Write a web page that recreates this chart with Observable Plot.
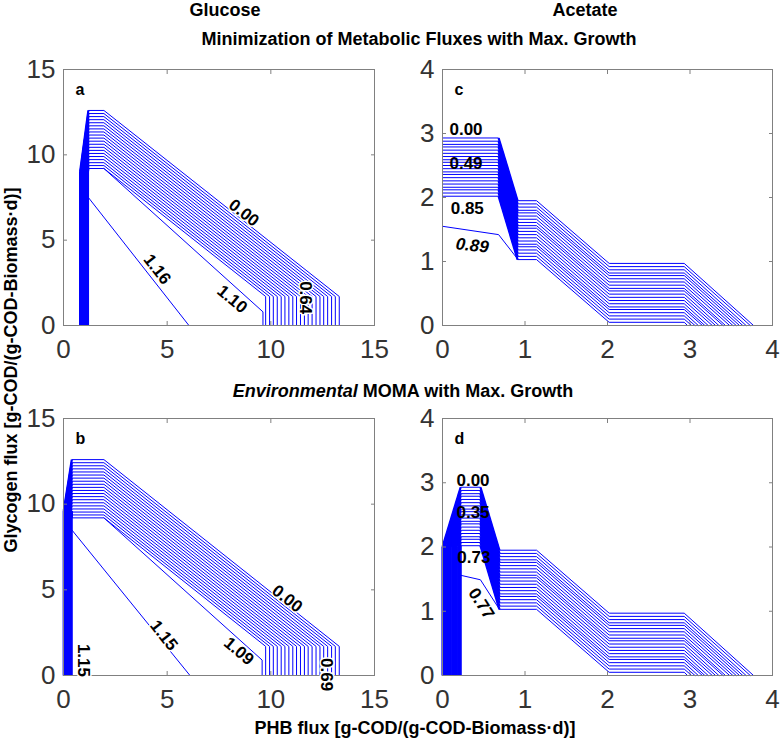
<!DOCTYPE html>
<html>
<head>
<meta charset="utf-8">
<script src="https://cdn.jsdelivr.net/npm/d3@7"></script>
<script src="https://cdn.jsdelivr.net/npm/@observablehq/plot@0.6"></script>
<style>
  html, body { margin: 0; padding: 0; background: #fff; }
  #wrap { position: relative; width: 781px; height: 740px; overflow: hidden; background: #fff; }
  #wrap svg { position: absolute; }
</style>
</head>
<body>
<div id="wrap"></div>
<script>
// ---------------- DATA ----------------
const colTitles = ["Glucose", "Acetate"];
const rowTitles = ["Minimization of Metabolic Fluxes with Max. Growth", "MOMA with Max. Growth"];
const rowTitleItalic = "Environmental";
const xAxisTitle = "PHB flux [g-COD/(g-COD-Biomass\u00b7d)]";
const yAxisTitle = "Glycogen flux [g-COD/(g-COD-Biomass\u00b7d)]";
const panelLetters = ["a", "b", "c", "d"];

const glcTicks = [0, 5, 10, 15];
const aceTicks = [0, 1, 2, 3, 4];

// Glucose: band of 20 contour lines (top plateau height, right-hand vertical foot)
const glcBandTop   = [12.60, 12.42, 12.24, 12.06, 11.88, 11.70, 11.52, 11.34, 11.16, 10.98,
                      10.80, 10.62, 10.44, 10.26, 10.08, 9.90, 9.72, 9.54, 9.37, 9.20];
const glcBandRight = [13.30, 13.11, 12.93, 12.74, 12.55, 12.37, 12.18, 11.99, 11.80, 11.62,
                      11.43, 11.24, 11.06, 10.87, 10.68, 10.50, 10.31, 10.12, 9.94, 9.75];
// vertical stems of the band (x where each line rises from 0)
const glcMinStemX  = [0.80, 0.82, 0.84, 0.86, 0.88, 0.90, 0.92, 0.94, 0.96, 0.98,
                      1.00, 1.02, 1.04, 1.06, 1.08, 1.10, 1.12, 1.14, 1.16, 1.18];
const glcMomaStemX = [0.01, 0.03, 0.05, 0.07, 0.09, 0.11, 0.13, 0.15, 0.17, 0.19,
                      0.21, 0.23, 0.25, 0.27, 0.29, 0.31, 0.33, 0.35, 0.37, 0.39];
// knots of the glucose band: [stem top y, fan x, elbow x, foot y]
const glcMinKnots  = [9.0, 1.2, 1.95, 1.7];
const glcMomaKnots = [9.6, 0.4, 1.95, 1.7];
// single contour lines (vertices)
const glcMinLine116 = [[1.2, 7.5], [6.05, 0]];
const glcMinLine110 = [[1.95, 9.2], [9.62, 0.8], [9.62, 0]];
const glcMomaLine115 = [[0.4, 8.5], [6.1, 0]];
const glcMomaLine109 = [[1.95, 9.2], [9.58, 0.9], [9.58, 0]];

// Acetate: band of 20 contour lines, y on each plateau and x where each hits 0
const aceUpperY  = [2.93, 2.88, 2.83, 2.79, 2.74, 2.69, 2.64, 2.59, 2.55, 2.50,
                    2.45, 2.40, 2.36, 2.31, 2.26, 2.21, 2.16, 2.12, 2.07, 2.02];
const aceMiddleY = [1.95, 1.90, 1.85, 1.80, 1.76, 1.71, 1.66, 1.61, 1.56, 1.52,
                    1.47, 1.42, 1.37, 1.32, 1.27, 1.23, 1.18, 1.13, 1.08, 1.03];
const aceLowerY  = [0.97, 0.92, 0.87, 0.82, 0.78, 0.73, 0.68, 0.63, 0.58, 0.54,
                    0.49, 0.44, 0.39, 0.34, 0.29, 0.25, 0.20, 0.15, 0.10, 0.05];
const aceEndX    = [3.77, 3.73, 3.68, 3.64, 3.60, 3.56, 3.52, 3.48, 3.43, 3.40,
                    3.35, 3.31, 3.27, 3.22, 3.18, 3.15, 3.10, 3.06, 3.02, 2.97];
// x knots of the acetate band: upper start, upper end, middle start, middle end, lower start, lower end
const aceMinKnotX  = [0.00, 0.68, 0.91, 1.14, 2.02, 2.93];
const aceMomaKnotX = [0.22, 0.46, 0.69, 1.14, 2.02, 2.93];
const aceMomaStemX = [0.00, 0.01, 0.02, 0.03, 0.05, 0.06, 0.07, 0.08, 0.09, 0.10,
                      0.12, 0.13, 0.14, 0.15, 0.16, 0.17, 0.19, 0.20, 0.21, 0.22];
const aceMomaStemTop = 2.0;
const aceMinLine089  = [[0, 1.55], [0.68, 1.42], [0.91, 1.04]];
const aceMomaLine077 = [[0.22, 1.56], [0.46, 1.49], [0.69, 1.03]];

// contour labels: text, x, y, rotation
const glcMinLabels  = [["0.00", 8.7, 6.6, 38], ["1.16", 4.52, 3.29, 52], ["1.10", 8.14, 1.54, 40], ["0.64", 11.66, 1.63, 90]];
const glcMomaLabels = [["0.00", 10.79, 4.48, 38], ["1.15", 4.84, 2.34, 52], ["1.09", 8.46, 1.42, 40], ["0.69", 12.7, 0.05, 90], ["1.15", 0.98, 0.88, 90]];
const aceMinLabels  = [["0.00", 0.285, 3.06, 0], ["0.49", 0.285, 2.53, 0], ["0.85", 0.30, 1.82, 0]];
const aceMinItalic  = [["0.89", 0.36, 1.25, 6]];
const aceMomaLabels = [["0.00", 0.37, 3.03, 0], ["0.35", 0.37, 2.53, 0], ["0.73", 0.38, 1.84, 0], ["0.77", 0.47, 1.12, 57]];

// ---------------- build line tables ----------------
function pushLine(rows, id, pts) { pts.forEach(([x, y]) => rows.push({id, x, y})); }

function glucoseRows(stemX, knots, extra) {
  const [stemTop, fanX, elbowX, footY] = knots;
  const rows = [];
  glcBandTop.forEach((t, i) => {
    pushLine(rows, "b" + i, [[stemX[i], 0], [stemX[i], stemTop], [fanX, t], [elbowX, t], [glcBandRight[i], footY], [glcBandRight[i], 0]]);
  });
  extra.forEach((pts, j) => pushLine(rows, "s" + j, pts));
  return rows;
}
// dense (solid-looking) parts of the glucose band: stems and fan
function glucoseDense(stemX, knots) {
  const [stemTop, fanX] = knots;
  const segs = [];
  glcBandTop.forEach((t, i) => {
    segs.push({x1: stemX[i], y1: 0, x2: stemX[i], y2: stemTop});
    segs.push({x1: stemX[i], y1: stemTop, x2: fanX, y2: t});
  });
  return segs;
}
function acetateRows(knotX, stem, extra) {
  const rows = [];
  aceUpperY.forEach((u, i) => {
    const pts = [];
    if (stem) { pts.push([stem[i], 0], [stem[i], aceMomaStemTop]); }
    pts.push([knotX[0], u], [knotX[1], u], [knotX[2], aceMiddleY[i]], [knotX[3], aceMiddleY[i]],
             [knotX[4], aceLowerY[i]], [knotX[5], aceLowerY[i]], [aceEndX[i], 0]);
    pushLine(rows, "b" + i, pts);
  });
  extra.forEach((pts, j) => pushLine(rows, "s" + j, pts));
  return rows;
}
// dense parts of the acetate band: steep wedge (and stems + fan for MOMA)
function acetateDense(knotX, stem) {
  const segs = [];
  aceUpperY.forEach((u, i) => {
    segs.push({x1: knotX[1], y1: u, x2: knotX[2], y2: aceMiddleY[i]});
    if (stem) {
      segs.push({x1: stem[i], y1: 0, x2: stem[i], y2: aceMomaStemTop});
      segs.push({x1: stem[i], y1: aceMomaStemTop, x2: knotX[0], y2: u});
    }
  });
  return segs;
}
const toLabels = (arr) => arr.map(([t, x, y, r]) => ({t, x, y, r}));

// ---------------- drawing ----------------
const FONT = "'Liberation Sans', Arial, Helvetica, sans-serif";
const BLUE = "#0000ff";
const FRAME = "#808080";
const TICKTXT = "#333333";
const wrap = document.getElementById("wrap");

function panel({xDomain, xTicks, yDomain, yTicks, rows, dense, labels, halo, italic, letter, left, top, fw, fh}) {
  const mL = 60, mR = 8, mT = 8, mB = 50;
  const marks = [
    Plot.link(dense, {x1: "x1", y1: "y1", x2: "x2", y2: "y2", stroke: BLUE, strokeWidth: 2.2}),
    Plot.line(rows, {x: "x", y: "y", z: "id", stroke: BLUE, strokeWidth: 1}),
    Plot.frame({stroke: FRAME, strokeWidth: 1}),
    Plot.axisX(xTicks, {anchor: "bottom", tickSize: -4, tickPadding: 18, tickFormat: d => String(d), stroke: FRAME, fill: TICKTXT, fontSize: 26, label: null}),
    Plot.axisX(xTicks, {anchor: "top", tickSize: -4, stroke: FRAME, fill: "none", label: null}),
    Plot.axisY(yTicks, {anchor: "left", tickSize: -4, tickPadding: 12, tickFormat: d => String(d), stroke: FRAME, fill: TICKTXT, fontSize: 26, label: null}),
    Plot.axisY(yTicks, {anchor: "right", tickSize: -4, stroke: FRAME, fill: "none", label: null}),
    Plot.text(toLabels(labels), {x: "x", y: "y", text: "t", rotate: "r", fontWeight: "bold", fontSize: 17, fill: "black",
      ...(halo ? {stroke: "white", strokeWidth: 3} : {})}),
    Plot.text([letter], {text: d => d, frameAnchor: "top-left", dx: 12, dy: 14, lineAnchor: "top", textAnchor: "start", fontWeight: "bold", fontSize: 16, fill: "black"})
  ];
  if (italic) marks.push(Plot.text(toLabels(italic), {x: "x", y: "y", text: "t", rotate: "r", fontWeight: "bold", fontStyle: "italic", fontSize: 17, fill: "black"}));
  const chart = Plot.plot({
    width: mL + fw + mR, height: mT + fh + mB,
    marginLeft: mL, marginRight: mR, marginTop: mT, marginBottom: mB,
    style: {background: "transparent", overflow: "visible", fontFamily: FONT, color: "black"},
    x: {domain: xDomain}, y: {domain: yDomain},
    marks
  });
  chart.style.left = left + "px";
  chart.style.top = top + "px";
  wrap.appendChild(chart);
}

// overlay titles
const NS = "http://www.w3.org/2000/svg";
const over = document.createElementNS(NS, "svg");
over.setAttribute("width", 781); over.setAttribute("height", 740);
over.style.left = "0px"; over.style.top = "0px";
over.setAttribute("font-family", "Liberation Sans, Arial, sans-serif");
over.setAttribute("font-weight", "bold");
over.setAttribute("font-size", "18");
function addText(str, x, y, rot, italicPrefix) {
  const t = document.createElementNS(NS, "text");
  t.setAttribute("text-anchor", "middle");
  if (rot) t.setAttribute("transform", `translate(${x},${y}) rotate(${rot})`);
  else { t.setAttribute("x", x); t.setAttribute("y", y); }
  if (italicPrefix) {
    const s = document.createElementNS(NS, "tspan");
    s.setAttribute("font-style", "italic");
    s.textContent = italicPrefix + " ";
    t.appendChild(s);
    const s2 = document.createElementNS(NS, "tspan");
    s2.textContent = str;
    t.appendChild(s2);
  } else t.textContent = str;
  over.appendChild(t);
}
addText(colTitles[0], 225, 16);
addText(colTitles[1], 585, 16);
addText(rowTitles[0], 419, 45);
addText(rowTitles[1], 403, 397, 0, rowTitleItalic);
addText(xAxisTitle, 415, 734);
addText(yAxisTitle, 17, 370, -90);
wrap.appendChild(over);

panel({xDomain: [0, 15], xTicks: glcTicks, yDomain: [0, 15], yTicks: glcTicks,
  rows: glucoseRows(glcMinStemX, glcMinKnots, [glcMinLine116, glcMinLine110]),
  dense: glucoseDense(glcMinStemX, glcMinKnots),
  labels: glcMinLabels, halo: true, letter: panelLetters[0], left: 3, top: 61, fw: 311, fh: 256});
panel({xDomain: [0, 15], xTicks: glcTicks, yDomain: [0, 15], yTicks: glcTicks,
  rows: glucoseRows(glcMomaStemX, glcMomaKnots, [glcMomaLine115, glcMomaLine109]),
  dense: glucoseDense(glcMomaStemX, glcMomaKnots),
  labels: glcMomaLabels, halo: true, letter: panelLetters[1], left: 3, top: 410, fw: 311, fh: 257});
panel({xDomain: [0, 4], xTicks: aceTicks, yDomain: [0, 4], yTicks: aceTicks,
  rows: acetateRows(aceMinKnotX, null, [aceMinLine089]),
  dense: acetateDense(aceMinKnotX, null),
  labels: aceMinLabels, italic: aceMinItalic, halo: false, letter: panelLetters[2], left: 382, top: 61, fw: 330, fh: 256});
panel({xDomain: [0, 4], xTicks: aceTicks, yDomain: [0, 4], yTicks: aceTicks,
  rows: acetateRows(aceMomaKnotX, aceMomaStemX, [aceMomaLine077]),
  dense: acetateDense(aceMomaKnotX, aceMomaStemX),
  labels: aceMomaLabels, halo: false, letter: panelLetters[3], left: 382, top: 410, fw: 330, fh: 257});
</script>
</body>
</html>
